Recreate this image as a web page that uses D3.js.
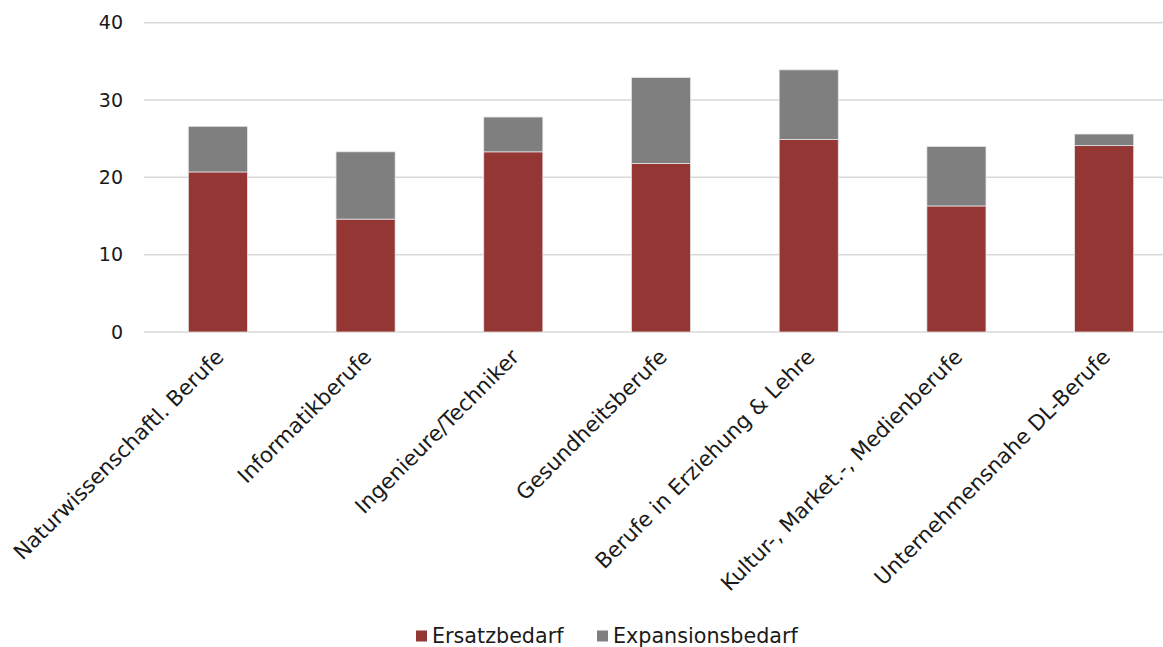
<!DOCTYPE html>
<html>
<head>
<meta charset="utf-8">
<script src="https://cdn.jsdelivr.net/npm/d3@7"></script>
<style>
  html, body { margin: 0; padding: 0; background: #fff; }
  svg text { font-family: "DejaVu Sans", "Open Sans", sans-serif; fill: #1a1a1a; }
</style>
</head>
<body>
<svg id="chart" width="1163" height="647"></svg>
<script>
// Berufsgruppen and Bedarf components (stacked)
const categories = [
  "Naturwissenschaftl. Berufe",
  "Informatikberufe",
  "Ingenieure/Techniker",
  "Gesundheitsberufe",
  "Berufe in Erziehung & Lehre",
  "Kultur-, Market.-, Medienberufe",
  "Unternehmensnahe DL-Berufe"
];
const ersatzbedarf     = [20.7, 14.6, 23.3, 21.8, 24.9, 16.3, 24.1];
const expansionsbedarf = [5.9, 8.7, 4.5, 11.1, 9.0, 7.7, 1.5];
const seriesNames = ["Ersatzbedarf", "Expansionsbedarf"];
const seriesColors = ["#943634", "#7f7f7f"];
const yTicks = [0, 10, 20, 30, 40];

const svg = d3.select("#chart");

const x = d3.scaleBand()
  .domain(categories)
  .range([144, 1178])
  .paddingInner(0.6)
  .paddingOuter(0.3);

const y = d3.scaleLinear().domain([0, 40]).range([332, 22.7]);

// horizontal grid lines
svg.append("g")
  .selectAll("line")
  .data(yTicks)
  .join("line")
  .attr("x1", 144).attr("x2", 1178)
  .attr("y1", d => y(d)).attr("y2", d => y(d))
  .attr("stroke", "#d9d9d9")
  .attr("stroke-width", 1.5);

// y axis labels
const yAxis = d3.axisLeft(y).tickValues(yTicks).tickSize(0).tickPadding(0);
const gy = svg.append("g").attr("transform", "translate(123,0)").call(yAxis);
gy.select(".domain").remove();
gy.selectAll("text")
  .attr("font-size", 19)
  .attr("font-family", null)
  .style("fill", "#1a1a1a");

// stacked data
const rows = categories.map((c, i) => ({
  cat: c,
  Ersatzbedarf: ersatzbedarf[i],
  Expansionsbedarf: expansionsbedarf[i]
}));
const stacked = d3.stack().keys(seriesNames)(rows);

svg.append("g")
  .selectAll("g")
  .data(stacked)
  .join("g")
  .attr("fill", (d, i) => seriesColors[i])
  .selectAll("rect")
  .data(d => d)
  .join("rect")
  .attr("x", d => x(d.data.cat))
  .attr("width", x.bandwidth())
  .attr("y", d => y(d[1]))
  .attr("height", d => y(d[0]) - y(d[1]))
  .attr("stroke", "#e6e6e6")
  .attr("stroke-width", 0.75);

// rotated category labels
svg.append("g")
  .selectAll("text")
  .data(categories)
  .join("text")
  .attr("transform", d => `translate(${x(d) + x.bandwidth() / 2 + 2},353) rotate(-45)`)
  .attr("text-anchor", "end")
  .attr("dy", "0.35em")
  .attr("font-size", 21.3)
  .text(d => d);

// legend
const legend = svg.append("g").attr("transform", "translate(416,636)");
const legendX = [0, 181];
seriesNames.forEach((name, i) => {
  const g = legend.append("g").attr("transform", `translate(${legendX[i]},0)`);
  g.append("rect")
    .attr("x", 0).attr("y", -5.5)
    .attr("width", 11).attr("height", 11)
    .attr("fill", seriesColors[i]);
  g.append("text")
    .attr("x", 16).attr("dy", "0.33em")
    .attr("font-size", 20.7)
    .text(name);
});
</script>
</body>
</html>
